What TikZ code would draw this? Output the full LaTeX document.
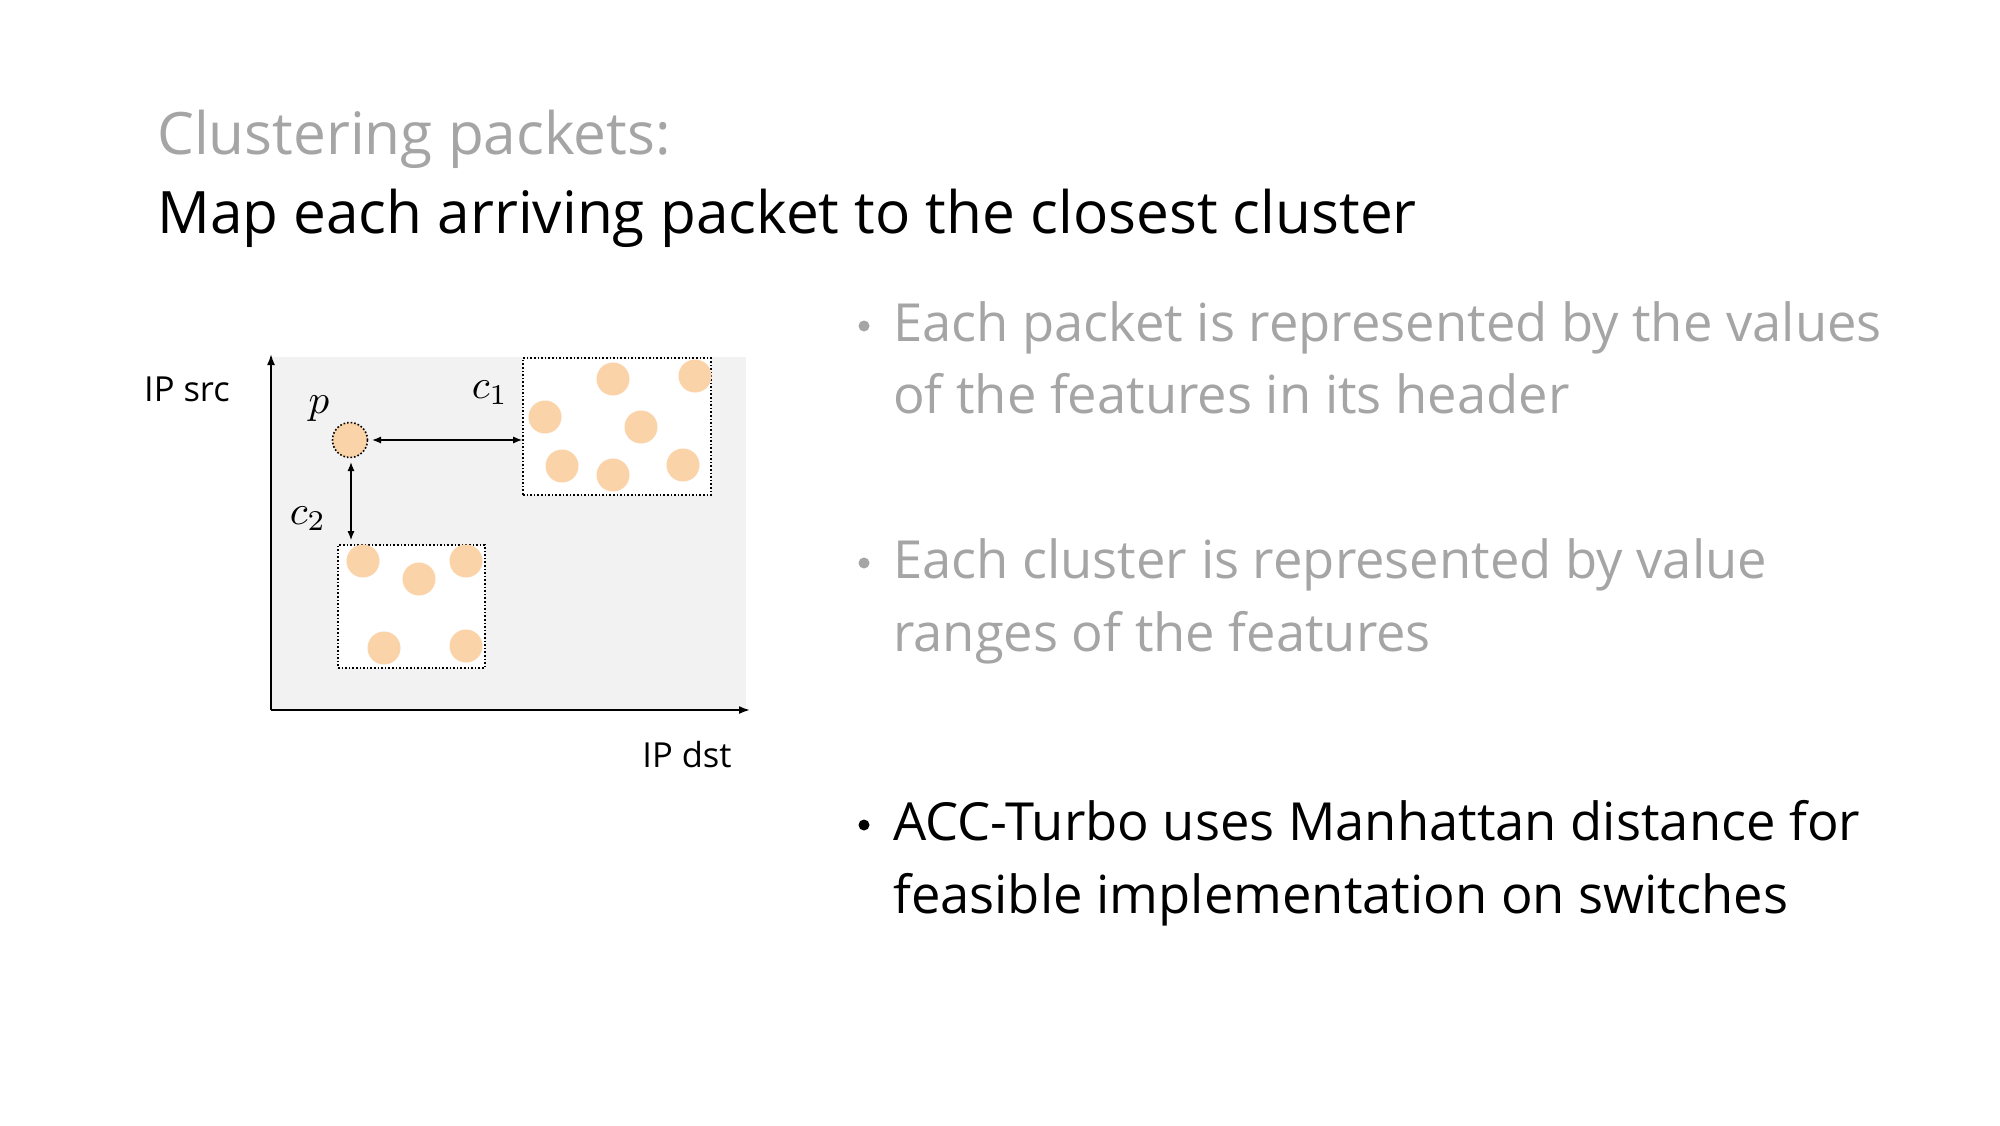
\documentclass[tikz,border=0pt]{standalone}
\usepackage{fontspec}
\setmainfont{Open Sans}
\usetikzlibrary{arrows.meta}
\definecolor{peach}{HTML}{FBD3A9}
\definecolor{bgray}{HTML}{F2F2F2}
\definecolor{tgray}{HTML}{A5A5A5}
\newcommand{\biglbl}[1]{\scalebox{4.1}{$#1$}}
\begin{document}
\begin{tikzpicture}[x=1pt,y=-1pt,
  titletext/.style={anchor=base west, inner sep=0pt, font=\fontsize{58.5}{70}\selectfont},
  btext/.style={anchor=base west, inner sep=0pt, font=\fontsize{52.5}{60}\selectfont},
  bdot/.style={circle, inner sep=0pt, minimum size=11pt},
  pdot/.style={circle, fill=peach, minimum size=33pt, inner sep=0pt},
  cluster/.style={draw, dotted, line width=1.6pt, fill=white, inner sep=0pt},
  lbl/.style={inner sep=0pt, font=\fontsize{34.5}{40}\selectfont},
  mlbl/.style={inner sep=0pt},
  dist/.style={{Latex[length=9pt,width=7pt]}-{Latex[length=9pt,width=7pt]}, line width=1.3pt},
  axis/.style={-{Latex[length=11pt,width=8pt]}, line width=1.8pt}]
\useasboundingbox[fill=white] (0,0) rectangle (2000,1125);

% titles
\node[titletext, text=tgray] (t1) at (157,154) {Clustering packets:};
\node[titletext, text=black] (t2) at (157,233) {Map each arriving packet to the closest cluster};

% bullets
\node[bdot, fill=tgray] (b1) at (864,326) {};
\node[btext, text=tgray] (b1a) at (893,341) {Each packet is represented by the values};
\node[btext, text=tgray] (b1b) at (893,413) {of the features in its header};
\node[bdot, fill=tgray] (b2) at (864,563) {};
\node[btext, text=tgray] (b2a) at (893,578) {Each cluster is represented by value};
\node[btext, text=tgray] (b2b) at (893,651) {ranges of the features};
\node[bdot, fill=black] (b3) at (864,825) {};
\node[btext, text=black] (b3a) at (893,840) {ACC-Turbo uses Manhattan distance for};
\node[btext, text=black] (b3b) at (893,913) {feasible implementation on switches};

% plot area
\node[fill=bgray, inner sep=0pt, minimum width=475pt, minimum height=353pt, anchor=north west] (plane) at (271,357) {};
\coordinate (O) at (271,710);
\coordinate (ytop) at (271,354);
\coordinate (xend) at (750,710);
\draw[axis] (O) -- (ytop);
\draw[axis] (O) -- (xend);

\node[lbl] (ipsrc) at (187,389) {IP src};
\node[lbl] (ipdst) at (687,755) {IP dst};

% clusters
\node[cluster, minimum width=188pt, minimum height=137pt] (c1box) at (617,426.5) {};
\node[cluster, minimum width=147pt, minimum height=123pt] (c2box) at (411.5,606.5) {};

\foreach \n/\x/\y in {a/613/379, b/695/376, c/545/417, d/641/427, e/562/466, f/613/475, g/683/465}
  \node[pdot] (c1\n) at (\x,\y) {};
\foreach \n/\x/\y in {a/363/561, b/466/561, c/419/579, d/384/648, e/466/646}
  \node[pdot] (c2\n) at (\x,\y) {};

% packet
\node[pdot, draw, dotted, line width=1.6pt, minimum size=35pt] (p) at (350,440) {};
\node[mlbl] (plabel) at (319,409) {\biglbl{p}};
\node[mlbl] (c1label) at (490,393) {\biglbl{c_1}};
\node[mlbl] (c2label) at (308,519) {\biglbl{c_2}};

\coordinate (h1) at (372,440);
\coordinate (h2) at (c1box.west |- h1);
\draw[dist] (h1) -- (h2);
\coordinate (v1) at (351,462);
\path (v1 |- c2box.north) ++(0,-4) coordinate (v2);
\draw[dist] (v1) -- (v2);
\end{tikzpicture}
\end{document}
